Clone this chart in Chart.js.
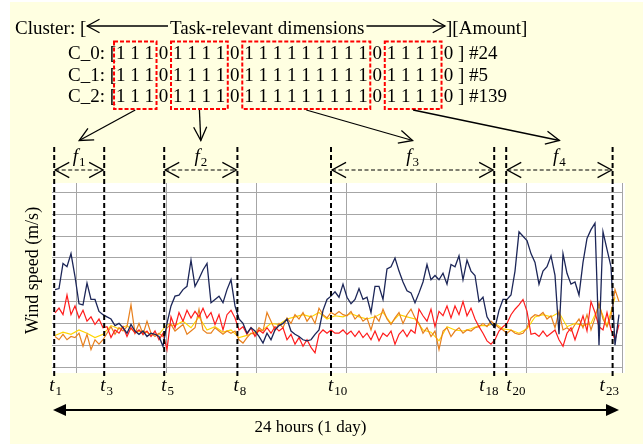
<!DOCTYPE html>
<html>
<head>
<meta charset="utf-8">
<script src="https://cdn.jsdelivr.net/npm/chart.js@4.4.1/dist/chart.umd.min.js"></script>
<style>
  html, body { margin: 0; padding: 0; background: #fff; }
  #wrap { width: 643px; height: 446px; }
</style>
</head>
<body>
<div id="wrap"><canvas id="chart" width="643" height="446"></canvas></div>
<script>
// Wind speed samples (m/s), one every 4 px of the original time axis
const navy = [
  3.55, 3.6, 4.75, 4.6, 5.2, 4.15, 2.9, 2.85, 3.85, 3.1,
  3.1, 2.55, 2.4, 2.3, 2.2, 1.9, 2.0, 1.8, 1.55, 1.95,
  1.65, 1.5, 1.65, 1.4, 1.55, 1.5, 1.4, 0.95, 2.0, 2.8,
  3.25, 3.3, 3.55, 3.7, 4.9, 3.7, 4.05, 4.45, 4.75, 2.95,
  3.1, 3.25, 2.95, 3.55, 4.0, 2.8, 2.2, 2.0, 1.55, 1.8,
  1.65, 1.4, 1.1, 1.55, 1.25, 1.7, 1.9, 2.0, 2.2, 1.65,
  1.5, 1.4, 1.25, 1.2, 1.25, 1.5, 1.7, 2.6, 3.1, 3.25,
  3.45, 3.2, 3.8, 3.2, 2.9, 3.1, 3.6, 3.1, 3.2, 2.5,
  3.7, 3.7, 3.1, 4.5, 4.6, 5.0, 4.4, 3.9, 3.5, 3.4,
  2.95, 3.4, 3.9, 4.7, 4.0, 4.2, 4.0, 4.3, 3.8, 4.7,
  4.6, 5.1, 4.0, 4.9, 4.4, 4.2, 3.0, 3.2, 2.3, 2.0,
  1.8, 2.6, 3.1, 3.1, 3.3, 4.4, 6.2, 6.0, 5.8, 5.2,
  4.8, 3.8, 4.4, 4.6, 5.1, 4.2, 1.5, 5.2, 4.3, 3.8,
  3.9, 3.3, 4.8, 5.9, 6.3, 6.6, 1.0, 6.2, 5.4, 4.6,
  1.0, 2.4
];
const red = [
  2.48, 2.7, 2.4, 3.3, 2.4, 2.8, 2.25, 2.6, 2.1, 2.3,
  1.95, 2.2, 1.8, 1.85, 1.35, 1.7, 1.55, 1.85, 1.4, 1.8,
  1.55, 1.7, 1.5, 1.65, 1.4, 1.65, 1.25, 1.55, 0.8, 2.3,
  1.8, 2.5, 2.1, 2.6, 2.25, 2.55, 2.3, 2.7, 2.25, 2.5,
  1.95, 2.4, 1.7, 2.4, 2.6, 2.25, 1.7, 1.85, 1.5, 1.8,
  1.4, 1.7, 1.55, 1.8, 1.55, 1.85, 1.65, 1.8, 1.25, 1.5,
  1.05, 1.35, 0.95, 1.25, 0.9, 0.65, 1.5, 1.7, 1.55, 1.7,
  1.55, 1.55, 1.7, 1.5, 1.65, 1.4, 1.65, 1.35, 1.55, 1.25,
  1.65, 1.2, 1.55, 1.4, 1.65, 1.05, 1.5, 1.7, 1.4, 1.7,
  1.55, 2.65, 2.35, 2.1, 2.65, 1.85, 2.55, 2.35, 2.8, 2.25,
  2.8, 2.4, 3.0, 2.35, 2.7, 2.2, 1.85, 1.55, 1.2, 1.05,
  1.25, 1.65, 1.85, 2.0, 2.4, 2.65, 2.85, 3.1, 2.55, 1.5,
  1.55, 1.4, 1.65, 1.4, 1.55, 1.7, 1.25, 0.95, 1.55, 1.8,
  1.25, 1.8, 2.35, 1.65, 3.0, 2.5, 1.85, 1.7, 2.5, 1.7,
  1.25, 1.95
];
const orange = [
  1.4, 1.25, 1.5, 1.25, 1.4, 1.35, 1.55, 0.95, 1.5, 0.8,
  1.25, 1.05, 1.25, 1.55, 1.85, 1.5, 1.8, 1.65, 1.85, 2.85,
  1.55, 2.0, 1.5, 2.1, 1.55, 1.4, 1.55, 1.4, 1.8, 1.95,
  1.65, 1.8, 1.95, 1.5, 1.65, 1.8, 2.65, 1.7, 1.55, 1.55,
  1.8, 1.65, 1.5, 1.65, 1.55, 1.65, 1.25, 1.1, 1.35, 1.55,
  1.5, 1.8, 1.65, 2.5, 2.1, 1.7, 2.0, 1.8, 2.25, 2.0,
  2.4, 2.2, 2.5, 2.1, 2.35, 2.0, 2.7, 2.4, 2.25, 2.5,
  2.4, 2.55, 2.4, 2.35, 2.55, 2.2, 2.4, 2.1, 2.25, 1.7,
  2.35, 2.1, 2.65, 2.2, 1.95, 2.25, 2.5, 2.0, 2.4, 2.65,
  2.25, 2.0, 1.55, 1.8, 1.4, 1.65, 0.8, 1.65, 1.8, 1.4,
  1.65, 1.8, 1.55, 1.7, 1.65, 1.8, 1.85, 2.0, 1.85, 2.1,
  1.95, 1.8, 1.7, 1.55, 1.7, 1.55, 1.5, 1.55, 1.8, 2.25,
  2.4, 2.35, 2.5, 2.2, 2.35, 1.8, 2.55, 1.7, 1.8, 1.65,
  1.95, 2.2, 1.8, 2.4, 1.7, 2.25, 2.95, 2.2, 1.85, 2.35,
  3.55, 3.0
];
// yellow series is sampled every 8 px (every second sample)
const yellow = [
  1.45, 1.6, 1.5, 1.7, 1.55, 1.35, 1.5, 1.9, 1.75, 1.9,
  1.6, 1.65, 1.5, 1.5, 1.95, 1.9, 2.1, 1.8, 2.3, 1.7,
  1.85, 1.6, 1.7, 1.35, 1.45, 1.6, 1.7, 2.0, 1.95, 2.2,
  2.3, 2.4, 2.3, 2.5, 2.2, 2.35, 2.3, 2.45, 2.3, 2.2,
  2.3, 2.5, 2.0, 2.4, 2.3, 2.2, 1.7, 1.6, 1.2, 1.85,
  1.7, 1.65, 1.75, 1.9, 1.9, 2.0, 1.75, 1.7, 1.55, 1.75,
  2.3, 2.4, 2.3, 2.5, 1.85, 2.0, 1.9, 2.0, 2.8, 1.9,
  3.2
];

// hour boundaries (sample index) and their labels t_n
const hourIdx = [-0.2, 12.3, 27.3, 45.6, 69, 109.8, 112.8, 139.4];
const hourLabels = ['1', '3', '5', '8', '10', '18', '20', '23'];

// cluster table
const clusterNames = ['C_0', 'C_1', 'C_2'];
const clusterAmounts = [24, 5, 139];
const dims = [1,1,1,0, 1,1,1,1,0, 1,1,1,1,1,1,1,1,1,0, 1,1,1,1,0];
// features: [first dim, last dim], [start hour, end hour] (indices into hourIdx)
const featureNames = ['1', '2', '3', '4'];
const featureDims = [[0, 2], [4, 7], [9, 17], [19, 22]];
const featureHours = [[0, 1], [2, 3], [4, 5], [6, 7]];

const X_MIN = -0.75, X_MAX = 141.75;
const X_GRID_START = 5.4, X_GRID_STEP = 22.5;
const Y_MIN = -0.275, Y_MAX = 8.44;

const SERIF = '"Liberation Serif", "Times New Roman", serif';
const FONT = '19px ' + SERIF;
const BG = '#ffffe1';

function pts(arr, step) {
  return arr.map((v, i) => ({ x: i * step, y: v }));
}

function openHead(ctx, x, y, ang, len, spread) {
  ctx.beginPath();
  ctx.moveTo(x - len * Math.cos(ang - spread), y - len * Math.sin(ang - spread));
  ctx.lineTo(x, y);
  ctx.lineTo(x - len * Math.cos(ang + spread), y - len * Math.sin(ang + spread));
  ctx.stroke();
}

function filledHead(ctx, x, y, dir, len, half) {
  ctx.beginPath();
  ctx.moveTo(x, y);
  ctx.lineTo(x - dir * len, y - half);
  ctx.lineTo(x - dir * len, y + half);
  ctx.closePath();
  ctx.fill();
}

// italic letter with an upright subscript
function subLabel(ctx, main, sub, x, y, align) {
  const fMain = 'italic 19px ' + SERIF;
  const fSub = '13px ' + SERIF;
  ctx.font = fMain;
  const w1 = ctx.measureText(main).width;
  ctx.font = fSub;
  const w2 = ctx.measureText(sub).width;
  const sx = align === 'center' ? x - (w1 + w2 + 1) / 2 : x;
  ctx.textAlign = 'left';
  ctx.font = fMain;
  ctx.fillText(main, sx, y);
  ctx.font = fSub;
  ctx.fillText(sub, sx + w1 + 1, y + 4);
}

const background = {
  id: 'background',
  beforeDraw(chart) {
    const { ctx, chartArea: a } = chart;
    ctx.save();
    ctx.fillStyle = '#ffffff';
    ctx.fillRect(0, 0, chart.width, chart.height);
    ctx.fillStyle = BG;
    ctx.fillRect(10, 2, chart.width - 10, 442);
    ctx.fillStyle = '#ffffff';
    ctx.fillRect(a.left, a.top, a.right - a.left + 3, a.bottom - a.top);
    ctx.restore();
  }
};

const annotations = {
  id: 'annotations',
  afterDraw(chart) {
    const { ctx } = chart;
    const xs = chart.scales.x;
    const hx = hourIdx.map(v => xs.getPixelForValue(v));
    ctx.save();
    ctx.fillStyle = '#000';
    ctx.strokeStyle = '#000';
    ctx.textBaseline = 'alphabetic';
    ctx.textAlign = 'left';

    // --- header row
    ctx.font = FONT;
    const head = 'Cluster: [';
    ctx.fillText(head, 15, 34);
    const tipL = 15 + ctx.measureText(head).width + 1;
    const mid = 'Task-relevant dimensions';
    const midX = 170;
    ctx.fillText(mid, midX, 34);
    const midEnd = midX + ctx.measureText(mid).width + 2;
    const tipR = 445;
    ctx.fillText('][Amount]', tipR + 1, 34);
    ctx.lineWidth = 1.3;
    ctx.beginPath();
    ctx.moveTo(tipL, 26); ctx.lineTo(midX - 2, 26);
    ctx.moveTo(midEnd, 26); ctx.lineTo(tipR, 26);
    ctx.stroke();
    openHead(ctx, tipL, 26, Math.PI, 14, 0.5);
    openHead(ctx, tipR, 26, 0, 14, 0.5);

    // --- cluster rows
    const rowX = 68;
    const rowY = [59, 80.7, 102.4];
    const digitStr = dims.join(' ');
    ctx.font = FONT;
    clusterNames.forEach((name, r) => {
      ctx.fillText(name + ': [' + digitStr + ' ] #' + clusterAmounts[r], rowX, rowY[r]);
    });
    const prefixW = ctx.measureText('C_0: [').width;
    const digitW = ctx.measureText('1').width;
    const boxes = featureDims.map(([d0, d1]) => [
      rowX + prefixW + ctx.measureText(digitStr.slice(0, d0 * 2)).width - 2,
      rowX + prefixW + ctx.measureText(digitStr.slice(0, d1 * 2)).width + digitW + 2.5
    ]);

    // --- red boxes, arrows and feature spans
    const boxTop = 41.5, boxBot = 109;
    boxes.forEach(([bx0, bx1], k) => {
      ctx.save();
      ctx.strokeStyle = '#ff0000';
      ctx.lineWidth = 2;
      ctx.setLineDash([4, 2]);
      ctx.strokeRect(bx0, boxTop, bx1 - bx0, boxBot - boxTop);
      ctx.restore();

      const [h0, h1] = featureHours[k];
      const xa = hx[h0], xb = hx[h1];
      const cx = (xa + xb) / 2;
      // arrow from box to feature label
      const sx = (bx0 + bx1) / 2, sy = boxBot + 1;
      const ex = cx, ey = 140.5;
      ctx.lineWidth = 1.3;
      ctx.beginPath(); ctx.moveTo(sx, sy); ctx.lineTo(ex, ey); ctx.stroke();
      openHead(ctx, ex, ey, Math.atan2(ey - sy, ex - sx), 15, 0.45);

      // label f_k
      subLabel(ctx, 'f', featureNames[k], cx, 162, 'center');

      // dashed double arrow
      ctx.save();
      ctx.lineWidth = 1.2;
      ctx.setLineDash([4, 2.5]);
      ctx.beginPath(); ctx.moveTo(xa + 1, 170); ctx.lineTo(xb - 1, 170); ctx.stroke();
      ctx.restore();
      ctx.lineWidth = 1.3;
      openHead(ctx, xa + 1, 170, Math.PI, 16, 0.5);
      openHead(ctx, xb - 1, 170, 0, 16, 0.5);
    });

    // --- dashed hour boundaries
    ctx.save();
    ctx.lineWidth = 2;
    ctx.setLineDash([5, 3]);
    hx.forEach(x => {
      ctx.beginPath(); ctx.moveTo(x, 147); ctx.lineTo(x, 379); ctx.stroke();
    });
    ctx.restore();

    // --- t labels
    const nudge = [-5, -4, -3, -4, -3, -15, 0, -13];
    hourLabels.forEach((lab, i) => {
      subLabel(ctx, 't', lab, hx[i] + nudge[i], 391, 'left');
    });

    // --- 24 hours arrow
    const ay = 410;
    ctx.lineWidth = 2;
    ctx.beginPath(); ctx.moveTo(60, ay); ctx.lineTo(612, ay); ctx.stroke();
    filledHead(ctx, 53, ay, -1, 13, 6);
    filledHead(ctx, 619, ay, 1, 13, 6);
    ctx.font = '17px ' + SERIF;
    ctx.textAlign = 'center';
    ctx.fillText('24 hours (1 day)', 310.5, 432);

    // --- y axis title
    ctx.save();
    ctx.translate(38, 270.5);
    ctx.rotate(-Math.PI / 2);
    ctx.font = '18px ' + SERIF;
    ctx.textAlign = 'center';
    ctx.fillText('Wind speed (m/s)', 0, 0);
    ctx.restore();

    ctx.restore();
  }
};

const lineStyle = (color, width) => ({
  borderColor: color,
  borderWidth: width,
  pointRadius: 0,
  tension: 0,
  fill: false
});

new Chart(document.getElementById('chart'), {
  type: 'line',
  data: {
    datasets: [
      { label: 'navy', data: pts(navy, 1), ...lineStyle('#1c2658', 1.3) },
      { label: 'red', data: pts(red, 1), ...lineStyle('#ff1c1c', 1.2) },
      { label: 'orange', data: pts(orange, 1), ...lineStyle('#e8801e', 1.2) },
      { label: 'yellow', data: pts(yellow, 2), ...lineStyle('#ffd500', 1.1) }
    ]
  },
  options: {
    responsive: false,
    animation: false,
    devicePixelRatio: 1,
    layout: { padding: { left: 52, top: 183, right: 21, bottom: 73 } },
    plugins: { legend: { display: false }, tooltip: { enabled: false } },
    scales: {
      x: {
        type: 'linear',
        min: X_MIN,
        max: X_MAX,
        afterBuildTicks: s => {
          const t = [];
          for (let k = 0; k < 6; k++) t.push({ value: X_GRID_START + k * X_GRID_STEP });
          t.push({ value: X_MAX });
          s.ticks = t;
        },
        ticks: { display: false },
        grid: { color: '#a6a6a6', lineWidth: 1, drawTicks: false },
        border: { display: false }
      },
      y: {
        min: Y_MIN,
        max: Y_MAX,
        afterBuildTicks: s => {
          s.ticks = [0, 1, 2, 3, 4, 5, 6, 7, 8].map(v => ({ value: v }));
        },
        ticks: { display: false },
        grid: { color: '#a6a6a6', lineWidth: 1, drawTicks: false },
        border: { display: false }
      }
    }
  },
  plugins: [background, annotations]
});
</script>
</body>
</html>
